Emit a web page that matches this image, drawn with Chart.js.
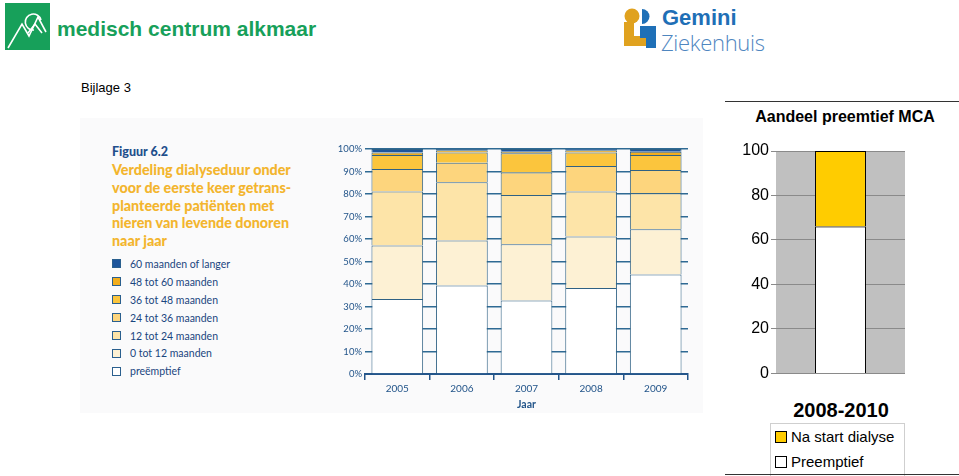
<!DOCTYPE html>
<html>
<head>
<meta charset="utf-8">
<script src="https://cdn.jsdelivr.net/npm/chart.js@4.4.1/dist/chart.umd.min.js"></script>
<style>
  body { margin: 0; background: #fff; }
  #page { position: relative; width: 959px; height: 476px; overflow: hidden; font-family: Arial, "Liberation Sans", sans-serif; }
  .abs { position: absolute; }
  #mcaText { left: 57px; top: 17px; font: bold 21px Arial, "Liberation Sans", sans-serif; color: #17a05a; white-space: nowrap; }
  #bijlage { left: 81px; top: 80px; font-size: 13px; color: #000; }
  #gem1 { left: 662px; top: 5px; font: bold 22px Arial, sans-serif; color: #1f6fb6; }
  #gem2 { left: 661px; top: 27px; font: 300 22px "Open Sans", Arial, sans-serif; color: #4f86bf; letter-spacing: -0.3px; }
  #figPanel { left: 80px; top: 118px; width: 623px; height: 295px; background: #fafafb; }
  #figNum { left: 112px; top: 144px; font: 900 12.5px Lato, sans-serif; color: #1f4f8c; }
  #figTitle { left: 112px; top: 161px; font: 900 14.3px/17.8px Lato, sans-serif; color: #f3b52e; white-space: nowrap; }
  #figLegend { left: 112px; top: 255px; font: 10.5px Lato, sans-serif; color: #1a467f; }
  #figLegend div { height: 17.9px; display: flex; align-items: center; white-space: nowrap; }
  #figLegend span.sw { width: 7px; height: 7px; border: 1px solid #2a5f8e; margin-right: 9px; display: inline-block; }
  #cLeft { left: 330px; top: 140px; }
  #cRight { left: 720px; top: 130px; }
  #rTitle { left: 720px; top: 108px; width: 250px; text-align: center; font: bold 16px Arial, sans-serif; color: #000; }
  .hline { left: 725px; width: 234px; height: 0; border-top: 1.5px solid #333; }
  #rPeriod { left: 741px; top: 399px; width: 200px; text-align: center; font: bold 20px Arial, sans-serif; }
  #rLegend { left: 770px; top: 423px; width: 133px; height: 60px; border: 1px solid #cfcfcf; font: 15px Arial, sans-serif; }
  #rLegend div { height: 25px; display: flex; align-items: center; padding-left: 4px; white-space: nowrap; }
  #rLegend span.sw { width: 10px; height: 10px; border: 1px solid #000; margin-right: 4px; display: inline-block; }
</style>
</head>
<body>
<div id="page">
  <svg class="abs" style="left:0;top:0" width="959" height="60">
    <!-- MCA logo -->
    <rect x="5" y="3" width="45" height="47" fill="#17a05a"/>
    <polyline points="8,48 22,24 29,36 38,17 46,32" fill="none" stroke="#fff" stroke-width="1.6"/>
    <path d="M41,20 A8,8 0 1 0 34,30" fill="none" stroke="#fff" stroke-width="1.6"/>
    <polyline points="28,33 35,24 42,33" fill="none" stroke="#fff" stroke-width="1.6"/>
    <!-- Gemini logo -->
    <circle cx="632" cy="16" r="7.5" fill="#e0a21f"/>
    <path d="M642,9 a7.5,7.5 0 1 1 0,15 z" fill="#1f70b7"/>
    <path d="M624,22 h10 v14 h12 v10 h-22 z" fill="#e0a21f"/>
    <path d="M640,26 h16 v22 h-10 v-10 h-6 z" fill="#1f70b7"/>
  </svg>
  <div id="mcaText" class="abs">medisch centrum alkmaar</div>
  <div id="bijlage" class="abs">Bijlage 3</div>
  <div id="gem1" class="abs">Gemini</div>
  <div id="gem2" class="abs">Ziekenhuis</div>

  <div id="figPanel" class="abs"></div>
  <div id="figNum" class="abs">Figuur 6.2</div>
  <div id="figTitle" class="abs">Verdeling dialyseduur onder<br>voor de eerste keer getrans-<br>planteerde patiënten met<br>nieren van levende donoren<br>naar jaar</div>
  <div id="figLegend" class="abs"></div>
  <canvas id="cLeft" class="abs" width="370" height="275"></canvas>

  <div class="abs hline" style="top:101px"></div>
  <div id="rTitle" class="abs">Aandeel preemtief MCA</div>
  <canvas id="cRight" class="abs" width="239" height="255"></canvas>
  <div id="rPeriod" class="abs"></div>
  <div id="rLegend" class="abs"></div>
  <div class="abs hline" style="top:474px"></div>
</div>

<script>
// figuur 6.2: dialyseduur per jaar (%)
const years = ['2005', '2006', '2007', '2008', '2009'];
const groupLabels = ['preëmptief', '0 tot 12 maanden', '12 tot 24 maanden', '24 tot 36 maanden',
                     '36 tot 48 maanden', '48 tot 60 maanden', '60 maanden of langer'];
const preemptief = [33.3, 39.3, 32.7, 38.2, 44.2];
const m0to12 = [23.8, 20.0, 25.0, 22.9, 20.1];
const m12to24 = [24.0, 25.9, 21.9, 20.0, 16.0];
const m24to36 = [10.0, 8.7, 10.0, 11.4, 10.4];
const m36to48 = [6.2, 4.5, 8.5, 6.0, 6.6];
const m48to60 = [1.2, 1.0, 0.7, 1.0, 1.5];
const m60plus = [1.5, 0.6, 1.2, 0.5, 1.2];
const groupColors = ['#ffffff', '#fdf1d4', '#fde4a8', '#fdd57d', '#fbc53d', '#f2ad1c', '#1d559c'];

// aandeel preemptief MCA
const periods = ['2008-2010'];
const rLabels = ['Preemptief', 'Na start dialyse'];
const mcaPreemptief = [66];
const mcaNaStart = [34];
const rColors = ['#ffffff', '#ffcc00'];

const blue = '#23558a';

// legend left figure (top item first)
const legendBox = document.getElementById('figLegend');
for (let i = groupLabels.length - 1; i >= 0; i--) {
    legendBox.insertAdjacentHTML('beforeend',
        `<div><span class="sw" style="background:${groupColors[i]}"></span>${groupLabels[i]}</div>`);
}

const leftSeries = [preemptief, m0to12, m12to24, m24to36, m36to48, m48to60, m60plus];
new Chart(document.getElementById('cLeft'), {
    type: 'bar',
    data: {
        labels: years,
        datasets: leftSeries.map((d, i) => ({
            label: groupLabels[i],
            data: d,
            backgroundColor: groupColors[i],
            borderColor: '#2f6184',
            borderWidth: 1,
            barPercentage: 0.8,
            categoryPercentage: 1.0
        }))
    },
    options: {
        responsive: false,
        animation: false,
        layout: { padding: { top: 9, right: 12, left: 0, bottom: 0 } },
        plugins: { legend: { display: false }, tooltip: { enabled: false } },
        scales: {
            x: {
                stacked: true,
                grid: { offset: true, drawOnChartArea: false, color: blue, tickLength: 6, lineWidth: 1.5 },
                border: { display: true, color: blue, width: 2 },
                ticks: { color: blue, font: { family: 'Lato', size: 10 }, padding: 3 },
                title: { display: true, text: 'Jaar', color: blue, font: { family: 'Lato', size: 10.5, weight: 'bold' }, padding: { top: 1 } },
                afterFit: (s) => { s.height = 41; }
            },
            y: {
                stacked: true,
                min: 0, max: 100,
                ticks: { stepSize: 10, color: blue, font: { family: 'Lato', size: 9.5 }, padding: 3,
                         callback: (v) => v + '%' },
                grid: { color: '#2f6a94', lineWidth: 1.4, drawTicks: false },
                border: { display: false },
                afterFit: (s) => { s.width = 35; }
            }
        }
    }
});

// right chart
document.getElementById('rPeriod').textContent = periods[0];
const rLeg = document.getElementById('rLegend');
for (let i = rLabels.length - 1; i >= 0; i--) {
    rLeg.insertAdjacentHTML('beforeend', `<div><span class="sw" style="background:${rColors[i]}"></span>${rLabels[i]}</div>`);
}

const plotBg = {
    id: 'plotBg',
    beforeDraw(chart) {
        const a = chart.chartArea, ctx = chart.ctx;
        ctx.save();
        ctx.fillStyle = '#c0c0c0';
        ctx.fillRect(a.left, a.top, a.right - a.left, a.bottom - a.top);
        ctx.restore();
    }
};

new Chart(document.getElementById('cRight'), {
    type: 'bar',
    data: {
        labels: periods,
        datasets: [
            { label: rLabels[0], data: mcaPreemptief, backgroundColor: rColors[0], borderColor: '#000', borderWidth: 1,
              barPercentage: 0.395, categoryPercentage: 1.0 },
            { label: rLabels[1], data: mcaNaStart, backgroundColor: rColors[1], borderColor: '#000', borderWidth: 1,
              barPercentage: 0.395, categoryPercentage: 1.0 }
        ]
    },
    options: {
        responsive: false,
        animation: false,
        layout: { padding: { top: 21, right: 54, left: 0, bottom: 7 } },
        plugins: { legend: { display: false }, tooltip: { enabled: false } },
        scales: {
            x: { stacked: true, display: false },
            y: {
                stacked: true,
                min: 0, max: 100,
                ticks: { stepSize: 20, color: '#000', font: { family: 'Arial', size: 16 }, padding: 2 },
                grid: { color: '#8a8a8a', lineWidth: 1, tickLength: 5 },
                border: { display: false },
                afterFit: (s) => { s.width = 56; }
            }
        }
    },
    plugins: [plotBg]
});
</script>
</body>
</html>
